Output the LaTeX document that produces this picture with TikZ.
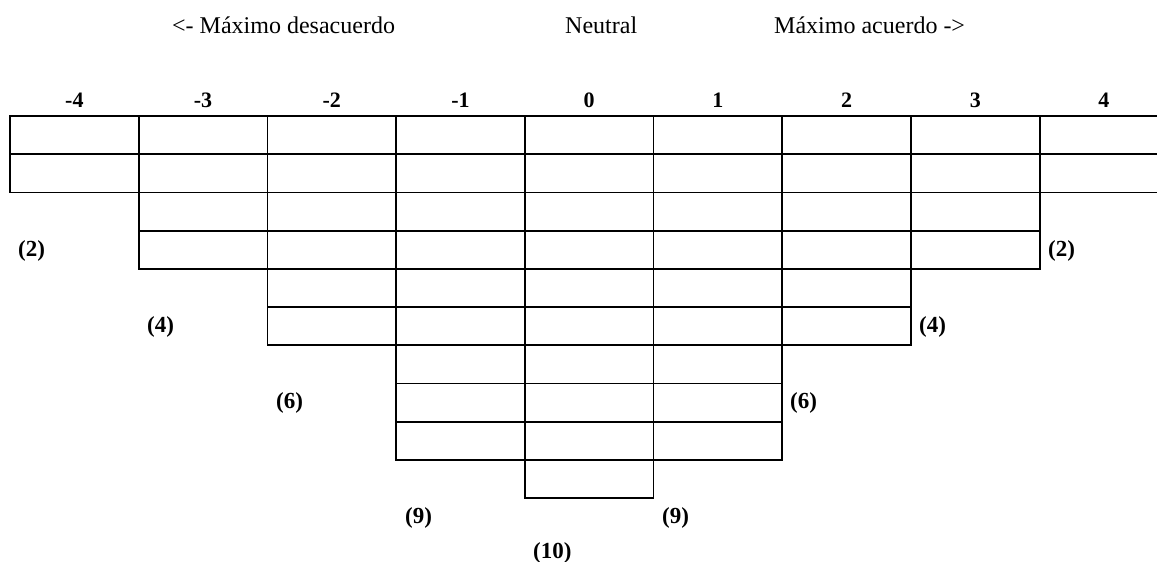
\documentclass[tikz,border=0pt]{standalone}
\usepackage{fontspec}
\setmainfont{Liberation Serif}
\begin{document}
\begin{tikzpicture}[x=1pt,y=-1pt,
  cell/.style={draw, line width=1.8pt, minimum width=128.7pt, minimum height=38.2pt, inner sep=0pt, outer sep=0pt, anchor=north west},
  hdr/.style={font=\fontsize{22}{26}\selectfont\bfseries},
  cnt/.style={font=\fontsize{23}{27}\selectfont\bfseries, anchor=west, inner sep=0pt},
  ttl/.style={font=\fontsize{24}{28}\selectfont, anchor=west, inner sep=0pt}]
\useasboundingbox (0,0) rectangle (1157,562);
\clip (0,0) rectangle (1157,562);
\foreach [count=\i from 0] \v/\n in {-4/2,-3/4,-2/6,-1/9,0/10,1/9,2/6,3/4,4/2} {
  \foreach \r in {1,...,\n} {
    \node[cell] (c\i-\r) at ({10+128.7*\i},{116+38.2*(\r-1)}) {};
  }
  \node[hdr] (h\i) at ({10+128.7*(\i+0.5)},100) {\v};
}
\node[ttl] (t1) at (172,25) {<- Máximo desacuerdo};
\node[ttl] (t2) at (565,25) {Neutral};
\node[ttl] (t3) at (774,25) {Máximo acuerdo ->};
\node[cnt] (n1) at (18,251) {(2)};
\node[cnt] (n2) at (1048,251) {(2)};
\node[cnt] (n3) at (147,327) {(4)};
\node[cnt] (n4) at (919,327) {(4)};
\node[cnt] (n5) at (276,403) {(6)};
\node[cnt] (n6) at (790,403) {(6)};
\node[cnt] (n7) at (405,518) {(9)};
\node[cnt] (n8) at (662,518) {(9)};
\node[cnt] (n9) at (533,553) {(10)};
\end{tikzpicture}
\end{document}
